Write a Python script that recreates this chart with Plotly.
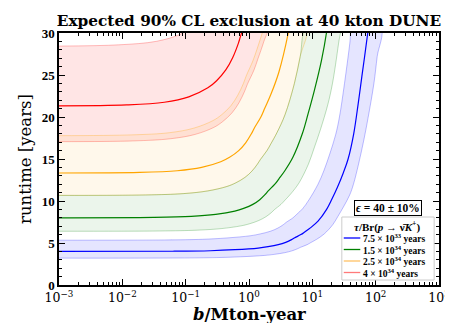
import plotly.graph_objects as go

# curves: runtime [years] vs background b [Mton-year]
# each lifetime has three curves: eff 30% (hi), 40% (mid), 50% (lo)
b_blue_lo = [0.001, 0.0777, 0.306, 0.744, 1.76, 2.51, 3.63, 4.76, 5.86, 6.48, 8.27, 9.5, 11.7,
             15.4, 21.1, 25.3, 30.9, 38.9, 44.6, 53.7, 65.1, 75.6, 93.8, 105.7, 122]
t_blue_lo = [3.2, 3.216, 3.264, 3.36, 3.52, 3.648, 3.84, 4.064, 4.32, 4.48, 4.8, 5.056, 5.44,
             6.08, 7.2, 8.16, 9.28, 10.72, 12.0, 14.4, 17.28, 19.84, 24.0, 27.2, 30.72]
b_blue_mid = [0.001, 0.0622, 0.245, 0.595, 1.4, 2.0, 2.9, 3.8, 4.7, 5.2, 6.6, 7.6, 9.3,
              12.3, 16.8, 20.3, 24.8, 31.0, 36.7, 45.0, 53.0, 60.5, 75.0, 79.1]
t_blue_mid = [4.0, 4.02, 4.08, 4.2, 4.4, 4.56, 4.8, 5.08, 5.4, 5.6, 6.0, 6.32, 6.8,
              7.6, 9.0, 10.2, 11.6, 13.4, 15.0, 18.0, 21.6, 24.8, 30.0, 31.6]
b_blue_hi = [0.001, 0.0466, 0.184, 0.446, 1.06, 1.50, 2.18, 2.85, 3.51, 3.88, 4.95, 5.70, 7.0,
             8.83, 12.3, 15.2, 18.6, 23.3, 26.8, 32.2, 39.1, 45.4]
t_blue_hi = [5.333, 5.36, 5.44, 5.6, 5.867, 6.08, 6.4, 6.773, 7.2, 7.467, 8.0, 8.427, 9.067,
             10.13, 12.0, 13.6, 15.47, 17.87, 20.0, 24.0, 28.8, 33.07]

b_green_lo = [0.001, 0.0389, 0.153, 0.372, 0.746, 1.03, 1.43, 1.85, 2.27, 2.51, 3.20, 3.71, 4.60,
              6.17, 8.68, 10.7, 13.5, 17.5, 20.8, 26.0, 32.6]
t_green_lo = [6.4, 6.43, 6.528, 6.72, 7.04, 7.296, 7.68, 8.128, 8.64, 8.96, 9.6, 10.11, 10.88,
              12.16, 14.4, 16.32, 18.56, 21.44, 24.0, 28.8, 34.56]
b_green_mid = [0.001, 0.031, 0.123, 0.298, 0.597, 0.822, 1.15, 1.48, 1.81, 2.01, 2.56, 2.97, 3.68,
               4.93, 6.94, 8.58, 10.8, 14.0, 16.7, 20.8]
t_green_mid = [8.0, 8.04, 8.16, 8.4, 8.8, 9.12, 9.6, 10.16, 10.8, 11.2, 12.0, 12.64, 13.6,
               15.2, 18.0, 20.4, 23.2, 26.8, 30.0, 36.0]
# shared edge: green 30% == orange 50%
b_edge = [0.001, 0.0233, 0.0919, 0.223, 0.448, 0.617, 0.859, 1.11, 1.36, 1.51, 1.92, 2.23, 2.76,
          3.70, 5.21, 6.43, 8.08]
t_edge = [10.667, 10.72, 10.88, 11.2, 11.73, 12.16, 12.8, 13.55, 14.4, 14.93, 16.0, 16.85, 18.13,
          20.27, 24.0, 27.2, 30.93]

b_orange_mid = [0.001, 0.0187, 0.0735, 0.179, 0.358, 0.493, 0.688, 0.886, 1.09, 1.21, 1.54, 1.78,
                2.21, 2.96, 4.17, 5.15]
t_orange_mid = [13.333, 13.4, 13.6, 14.0, 14.67, 15.2, 16.0, 16.93, 18.0, 18.67, 20.0, 21.07,
                22.67, 25.33, 30.0, 34.0]
b_orange_hi = [0.001, 0.014, 0.0552, 0.134, 0.268, 0.370, 0.516, 0.664, 0.817, 0.904, 1.15, 1.34,
               1.65, 2.22]
t_orange_hi = [17.778, 17.87, 18.13, 18.67, 19.56, 20.27, 21.33, 22.58, 24.0, 24.89, 26.67, 28.09,
               30.22, 33.8]

b_red_lo = [0.001, 0.0146, 0.0574, 0.140, 0.280, 0.385, 0.537, 0.692, 0.851, 0.942, 1.20, 1.39,
            1.72, 2.31]
t_red_lo = [17.067, 17.15, 17.41, 17.92, 18.77, 19.46, 20.48, 21.67, 23.04, 23.89, 25.6, 26.97,
            29.01, 32.43]
b_red_mid = [0.001, 0.0117, 0.046, 0.112, 0.224, 0.308, 0.430, 0.554, 0.681, 0.753, 0.961]
t_red_mid = [21.333, 21.44, 21.76, 22.4, 23.47, 24.32, 25.6, 27.09, 28.8, 29.87, 32.0]
b_red_hi = [0.001, 0.00874, 0.0345, 0.0837, 0.168]
t_red_hi = [28.444, 28.59, 29.01, 29.87, 31.29]

x_tickvals = [1e-3, 1e-2, 1e-1, 1, 10, 100, 1000]
x_ticktext = ["10<sup>−3</sup>", "10<sup>−2</sup>", "10<sup>−1</sup>", "10<sup>0</sup>",
              "10<sup>1</sup>", "10<sup>2</sup>", "10<sup>3</sup>"]
legend_names = ["7.5 × 10<sup>33</sup> years", "1.5 × 10<sup>34</sup> years",
                "2.5 × 10<sup>34</sup> years", "4 × 10<sup>34</sup> years"]
legend_colors = ["blue", "green", "#ffc265", "#ff7a7a"]

SERIF = "Liberation Serif"
WIDE = "DejaVu Serif"

# plot area in pixels
L, R, T, B = 51, 11, 25, 46
PW, PH = 453 - L - R, 323 - T - B


def px(x):
    return (x - L) / PW


def py(y):
    return (323 - B - y) / PH


fig = go.Figure()

bands = [
    (b_red_hi, t_red_hi, b_red_lo, t_red_lo, "rgba(255,0,0,0.1)", "rgba(255,0,0,0.25)"),
    (b_orange_hi, t_orange_hi, b_edge, t_edge, "rgba(255,165,0,0.08)", "rgba(255,165,0,0.3)"),
    (b_edge, t_edge, b_green_lo, t_green_lo, "rgba(0,128,0,0.08)", "rgba(0,128,0,0.25)"),
    (b_blue_hi, t_blue_hi, b_blue_lo, t_blue_lo, "rgba(0,0,255,0.1)", "rgba(0,0,255,0.25)"),
]
for bh, th, bl, tl, fc, lc in bands:
    fig.add_trace(go.Scatter(
        x=bh + bl[::-1], y=th + tl[::-1], mode="lines", fill="toself",
        fillcolor=fc, line=dict(color=lc, width=1, shape="spline"),
        showlegend=False, hoverinfo="skip",
    ))

mains = [
    (b_blue_mid, t_blue_mid, "blue"),
    (b_green_mid, t_green_mid, "green"),
    (b_orange_mid, t_orange_mid, "orange"),
    (b_red_mid, t_red_mid, "red"),
]
for (bx, ty, col), name in zip(mains, legend_names):
    fig.add_trace(go.Scatter(
        x=bx, y=ty, mode="lines", name=name, showlegend=False,
        line=dict(color=col, width=1.2, shape="spline"),
    ))

axis_common = dict(
    showline=True, linecolor="black", linewidth=1.5, mirror="allticks",
    ticks="inside", ticklen=6, tickcolor="black", tickwidth=1,
    showgrid=False, zeroline=False,
)
fig.update_xaxes(
    type="log", range=[-3, 3], tickvals=x_tickvals, ticktext=x_ticktext,
    tickfont=dict(family=WIDE, size=12.5, color="black"),
    minor=dict(ticks="inside", ticklen=3, dtick="D1", tickcolor="black"),
    **axis_common,
)
fig.update_yaxes(
    range=[0, 30], tickvals=[0, 5, 10, 15, 20, 25, 30],
    tickfont=dict(family=SERIF, size=13, color="black", weight="bold"),
    minor=dict(ticks="inside", ticklen=3, dtick=1, tickcolor="black"),
    title=dict(text="runtime [years]", standoff=6,
               font=dict(family=WIDE, size=16.5, color="black")),
    **axis_common,
)

# x axis title, placed by hand so it stays inside the page
fig.add_annotation(
    x=0.5, y=py(306), xref="paper", yref="paper", showarrow=False,
    xanchor="center", yanchor="middle", text="<i>b</i>/Mton-year",
    font=dict(family=WIDE, size=16.5, color="black", weight="bold"),
)

# efficiency box
fig.add_annotation(
    x=px(390), y=py(200), xref="paper", yref="paper", showarrow=False,
    xanchor="center", yanchor="middle",
    text="<i>ϵ</i> = 40 ± 10%", bordercolor="black", borderwidth=1, borderpad=1,
    bgcolor="white", font=dict(family=SERIF, size=11.5, color="black", weight="bold"),
)

# hand-made legend (compact like the original)
fig.add_shape(type="rect", xref="paper", yref="paper",
              x0=px(342), x1=px(437), y0=py(272), y1=py(209),
              line=dict(color="#cccccc", width=1), fillcolor="white")
fig.add_annotation(
    x=px(389), y=py(218), xref="paper", yref="paper", showarrow=False,
    xanchor="center", yanchor="middle",
    text="<i>τ</i>/Br(<i>p</i> → ν̄<i>K</i><sup>+</sup>)",
    font=dict(family=SERIF, size=11, color="black", weight="bold"),
)
for i, (name, col) in enumerate(zip(legend_names, legend_colors)):
    yy = 230 + 11.5 * i
    fig.add_shape(type="line", xref="paper", yref="paper",
                  x0=px(344), x1=px(361), y0=py(yy), y1=py(yy),
                  line=dict(color=col, width=1.3))
    fig.add_annotation(
        x=px(362), y=py(yy), xref="paper", yref="paper", showarrow=False,
        xanchor="left", yanchor="middle", text=name,
        font=dict(family=SERIF, size=9.5, color="black", weight="bold"),
    )

fig.update_layout(
    width=453, height=323,
    margin=dict(l=L, r=R, t=T, b=B),
    plot_bgcolor="white", paper_bgcolor="white",
    showlegend=False,
    title=dict(text="Expected 90% CL exclusion at 40 kton DUNE", x=0.5, xref="paper",
               y=0.962, yanchor="middle",
               font=dict(family=WIDE, size=15.3, color="black", weight="bold")),
)

fig.write_html("out.html")
